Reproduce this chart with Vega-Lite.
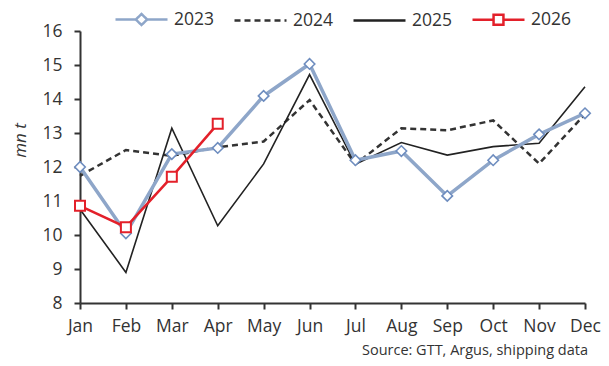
{
  "$schema": "https://vega.github.io/schema/vega-lite/v6.json",
  "width": 505,
  "height": 272,
  "autosize": {"type": "none"},
  "padding": {"left": 80, "top": 31, "right": 24, "bottom": 63},
  "background": "white",
  "config": {
    "view": {"stroke": null},
    "font": "Open Sans",
    "axis": {"grid": false, "domainColor": "#333333", "domainWidth": 2, "tickColor": "#333333", "tickWidth": 2, "tickSize": 6, "labelFont": "Open Sans", "labelFontSize": 17.5, "labelColor": "#333333"}
  },
  "title": {"text": "Source: GTT, Argus, shipping data", "orient": "bottom", "anchor": "end", "frame": "group", "fontSize": 14.5, "fontWeight": "normal", "font": "Open Sans", "color": "#333333", "offset": 9, "dx": 3},
  "data": {"values": [
    {"month": "Jan", "year": "2023", "value": 12.0},
    {"month": "Feb", "year": "2023", "value": 10.05},
    {"month": "Mar", "year": "2023", "value": 12.38},
    {"month": "Apr", "year": "2023", "value": 12.56},
    {"month": "May", "year": "2023", "value": 14.09},
    {"month": "Jun", "year": "2023", "value": 15.03},
    {"month": "Jul", "year": "2023", "value": 12.2},
    {"month": "Aug", "year": "2023", "value": 12.47},
    {"month": "Sep", "year": "2023", "value": 11.15},
    {"month": "Oct", "year": "2023", "value": 12.2},
    {"month": "Nov", "year": "2023", "value": 12.96},
    {"month": "Dec", "year": "2023", "value": 13.58},
    {"month": "Jan", "year": "2024", "value": 11.74},
    {"month": "Feb", "year": "2024", "value": 12.5},
    {"month": "Mar", "year": "2024", "value": 12.33},
    {"month": "Apr", "year": "2024", "value": 12.58},
    {"month": "May", "year": "2024", "value": 12.75},
    {"month": "Jun", "year": "2024", "value": 13.97},
    {"month": "Jul", "year": "2024", "value": 12.08},
    {"month": "Aug", "year": "2024", "value": 13.14},
    {"month": "Sep", "year": "2024", "value": 13.08},
    {"month": "Oct", "year": "2024", "value": 13.37},
    {"month": "Nov", "year": "2024", "value": 12.1},
    {"month": "Dec", "year": "2024", "value": 13.55},
    {"month": "Jan", "year": "2025", "value": 10.76},
    {"month": "Feb", "year": "2025", "value": 8.9},
    {"month": "Mar", "year": "2025", "value": 13.14},
    {"month": "Apr", "year": "2025", "value": 10.27},
    {"month": "May", "year": "2025", "value": 12.09},
    {"month": "Jun", "year": "2025", "value": 14.72},
    {"month": "Jul", "year": "2025", "value": 12.08},
    {"month": "Aug", "year": "2025", "value": 12.72},
    {"month": "Sep", "year": "2025", "value": 12.35},
    {"month": "Oct", "year": "2025", "value": 12.6},
    {"month": "Nov", "year": "2025", "value": 12.7},
    {"month": "Dec", "year": "2025", "value": 14.36},
    {"month": "Jan", "year": "2026", "value": 10.86},
    {"month": "Feb", "year": "2026", "value": 10.23},
    {"month": "Mar", "year": "2026", "value": 11.71},
    {"month": "Apr", "year": "2026", "value": 13.27}
  ]},
  "encoding": {
    "x": {"field": "month", "type": "ordinal", "sort": ["Jan","Feb","Mar","Apr","May","Jun","Jul","Aug","Sep","Oct","Nov","Dec"], "scale": {"type": "point", "padding": 0}, "axis": {"title": null, "labelAngle": 0, "labelPadding": 8}},
    "y": {"field": "value", "type": "quantitative", "scale": {"domain": [8, 16], "nice": false, "zero": false}, "axis": {"values": [8,9,10,11,12,13,14,15,16], "title": "mn t", "titleFont": "Open Sans", "titleFontSize": 17, "titleFontStyle": "italic", "titleFontWeight": "normal", "titleColor": "#333333", "titlePadding": 12, "titleY": 109, "labelPadding": 12}}
  },
  "layer": [
    {
      "transform": [{"filter": "datum.year == '2024'"}],
      "mark": {"type": "line", "color": "#333333", "strokeWidth": 2.5, "strokeDash": [6, 4]}
    },
    {
      "transform": [{"filter": "datum.year == '2025'"}],
      "mark": {"type": "line", "color": "#222222", "strokeWidth": 1.6}
    },
    {
      "transform": [{"filter": "datum.year == '2023'"}],
      "mark": {"type": "line", "color": "#8EA6C9", "strokeWidth": 3.5}
    },
    {
      "transform": [{"filter": "datum.year == '2023'"}],
      "mark": {"type": "point", "shape": "diamond", "size": 110, "filled": true, "fill": "white", "stroke": "#6E8DBF", "strokeWidth": 1.6, "opacity": 1}
    },
    {
      "transform": [{"filter": "datum.year == '2026'"}],
      "mark": {"type": "line", "color": "#E3202A", "strokeWidth": 2.5}
    },
    {
      "transform": [{"filter": "datum.year == '2026'"}],
      "mark": {"type": "point", "shape": "square", "size": 100, "filled": true, "fill": "white", "stroke": "#E3202A", "strokeWidth": 2, "opacity": 1}
    },
    {
      "mark": {"type": "point", "opacity": 0, "filled": false},
      "encoding": {
        "color": {"field": "year", "type": "nominal", "scale": {"domain": ["2023","2024","2025","2026"], "range": ["#8EA6C9", "#333333", "#222222", "#E3202A"]}, "legend": {"title": null, "orient": "none", "legendX": 34, "legendY": -39, "direction": "horizontal", "symbolSize": 2704, "symbolStrokeWidth": 2.5, "symbolOpacity": 1, "labelFont": "Open Sans", "labelFontSize": 17.5, "labelColor": "#333333", "labelOffset": 5, "columnPadding": 14}},
        "shape": {"field": "year", "type": "nominal", "scale": {"domain": ["2023","2024","2025","2026"], "range": ["M-1,0H-0.22M0.22,0H1M0,-0.21L0.22,0L0,0.21L-0.22,0Z", "M-1,0H1", "M-1,0H1", "M-1,0H-0.19M0.19,0H1M-0.19,-0.19H0.19V0.19H-0.19Z"]}},
        "strokeDash": {"field": "year", "type": "nominal", "scale": {"domain": ["2023","2024","2025","2026"], "range": [[1,0],[6,4],[1,0],[1,0]]}}
      }
    }
  ]
}
